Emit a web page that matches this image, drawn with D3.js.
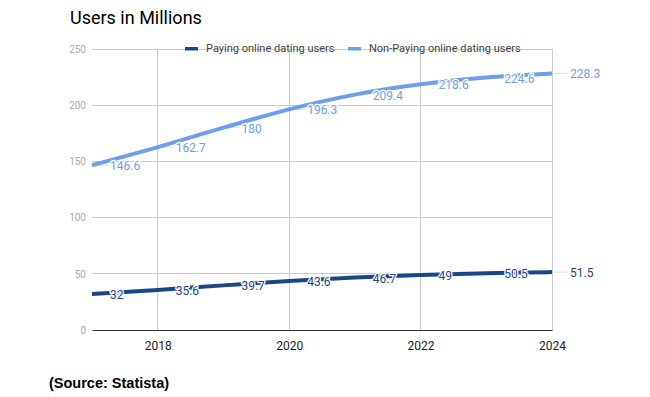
<!DOCTYPE html>
<html>
<head>
<meta charset="utf-8">
<script src="https://cdn.jsdelivr.net/npm/d3@7"></script>
<style>
  html, body { margin: 0; padding: 0; background: #fff; }
  svg { display: block; }
</style>
</head>
<body>
<svg id="chart" width="650" height="397"></svg>
<script>
const years = [2017, 2018, 2019, 2020, 2021, 2022, 2023, 2024];
const payingUsers = [32, 35.6, 39.7, 43.6, 46.7, 49, 50.5, 51.5];
const nonPayingUsers = [146.6, 162.7, 180, 196.3, 209.4, 218.6, 224.6, 228.3];
const seriesNames = ["Paying online dating users", "Non-Paying online dating users"];
const yTicks = [0, 50, 100, 150, 200, 250];
const xTicks = [2018, 2020, 2022, 2024];
const titleText = "Users in Millions";
const sourceText = "(Source: Statista)";

const colors = ["#1c4587", "#6d9eeb"];
const series = [
  { name: seriesNames[0], values: payingUsers, color: colors[0] },
  { name: seriesNames[1], values: nonPayingUsers, color: colors[1] }
];

const svg = d3.select("#chart");
const x = d3.scaleLinear().domain([2017, 2024]).range([92, 552]);
const y = d3.scaleLinear().domain([0, 250]).range([330, 49]);

// title
svg.append("text").attr("x", 70).attr("y", 23.5)
  .attr("font-family", "Roboto").attr("font-size", 18).attr("fill", "#000")
  .text(titleText);

// horizontal gridlines
svg.append("g").selectAll("line").data(yTicks.filter(d => d !== 0)).join("line")
  .attr("x1", x.range()[0]).attr("x2", x.range()[1])
  .attr("y1", d => y(d)).attr("y2", d => y(d))
  .attr("stroke", "#cccccc").attr("stroke-width", 1).attr("shape-rendering", "crispEdges");

// vertical gridlines
svg.append("g").selectAll("line").data(xTicks).join("line")
  .attr("x1", d => x(d)).attr("x2", d => x(d))
  .attr("y1", y(250)).attr("y2", y(0))
  .attr("stroke", "#cccccc").attr("stroke-width", 1).attr("shape-rendering", "crispEdges");

// y axis labels
const yAxis = d3.axisLeft(y).tickValues(yTicks).tickSize(0).tickPadding(6);
const gy = svg.append("g").attr("transform", `translate(${x.range()[0]},0)`).call(yAxis);
gy.select(".domain").remove();
gy.selectAll("text").attr("font-family", "Roboto").attr("font-size", 10).attr("fill", "#aaaaaa");

// x axis
const xAxis = d3.axisBottom(x).tickValues(xTicks).tickFormat(d3.format("d")).tickSize(0).tickPadding(11);
const gx = svg.append("g").attr("transform", `translate(0,${y(0)})`).call(xAxis);
gx.select(".domain").attr("stroke", "#333333").attr("stroke-width", 1.2);
gx.selectAll("text").attr("font-family", "Roboto").attr("font-size", 12).attr("fill", "#222222");

// legend
const legend = svg.append("g");
const legendPos = [185, 348];
series.forEach((s, i) => {
  legend.append("rect").attr("x", legendPos[i]).attr("y", 47).attr("width", 13).attr("height", 3.5)
    .attr("fill", s.color);
  legend.append("text").attr("x", legendPos[i] + 21).attr("y", 48.5)
    .attr("dominant-baseline", "central")
    .attr("font-family", "Roboto").attr("font-size", 11).attr("fill", "#444444")
    .text(s.name);
});

// annotation stems (under lines)
series.forEach(s => {
  svg.append("g").selectAll("line").data(s.values).join("line")
    .attr("x1", (d, i) => x(years[i])).attr("x2", (d, i) => x(years[i]) + 16)
    .attr("y1", d => y(d)).attr("y2", d => y(d))
    .attr("stroke", "#dddddd").attr("stroke-width", 1);
});

// lines
const line = d3.line().x((d, i) => x(years[i])).y(d => y(d)).curve(d3.curveMonotoneX);
series.forEach(s => {
  svg.append("path").datum(s.values).attr("d", line)
    .attr("fill", "none").attr("stroke", s.color).attr("stroke-width", 4)
    .attr("stroke-linecap", "butt");
});

// annotation labels
series.forEach(s => {
  const g = svg.append("g");
  g.selectAll("text.halo").data(s.values).join("text").attr("class", "halo")
    .attr("x", (d, i) => x(years[i]) + 18).attr("y", d => y(d) + 1)
    .attr("dominant-baseline", "central")
    .attr("font-family", "Roboto").attr("font-size", 12)
    .attr("fill", "none").attr("stroke", "#ffffff").attr("stroke-width", 2.5).attr("stroke-linejoin", "round")
    .text(d => d);
  g.selectAll("text.lbl").data(s.values).join("text").attr("class", "lbl")
    .attr("x", (d, i) => x(years[i]) + 18).attr("y", d => y(d) + 1)
    .attr("dominant-baseline", "central")
    .attr("font-family", "Roboto").attr("font-size", 12)
    .attr("fill", s.color)
    .text(d => d);
});

// source
svg.append("text").attr("x", 49).attr("y", 388)
  .attr("font-family", "Liberation Sans, Arial, sans-serif").attr("font-weight", "bold")
  .attr("font-size", 14.5).attr("fill", "#000")
  .text(sourceText);
</script>
</body>
</html>
